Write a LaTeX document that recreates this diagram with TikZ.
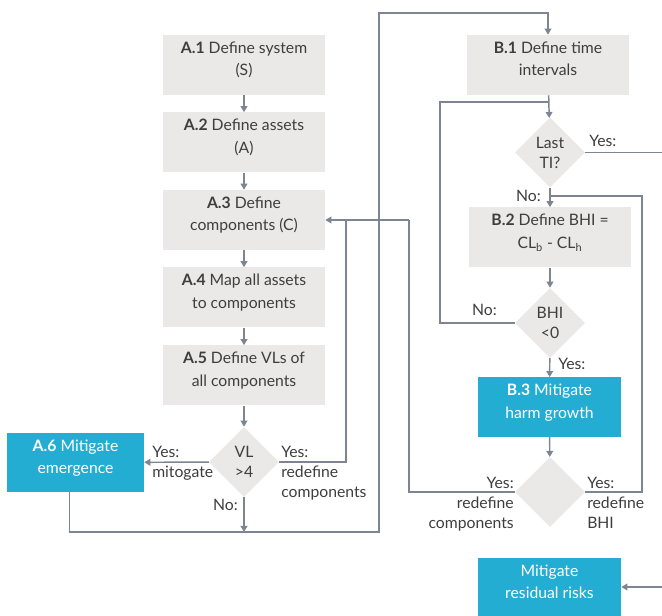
\documentclass[tikz,border=0pt]{standalone}
\usepackage{fontspec}
\setmainfont{Lato}
\usetikzlibrary{shapes.geometric,arrows.meta}
\definecolor{boxgray}{HTML}{EAE9E7}
\definecolor{boxblue}{HTML}{24ADD3}
\definecolor{linegray}{HTML}{7C8591}
\definecolor{txtgray}{HTML}{3E3E3E}
\tikzset{
  gbox/.style={fill=boxgray, minimum width=121.5pt, minimum height=45pt, inner sep=0},
  bbox/.style={fill=boxblue, minimum height=44.5pt, inner sep=0},
  btxt/.style={anchor=north, yshift=-5pt, inner sep=0, align=center, text=txtgray, font=\fontsize{11.8}{17}\selectfont},
  wtxt/.style={btxt, text=white},
  dia/.style={diamond, fill=boxgray, minimum size=52.5pt, inner sep=0, align=center, text=txtgray, font=\fontsize{11.8}{15}\selectfont},
  line/.style={draw=linegray, line width=1.1pt},
  arr/.style={line, -{Triangle[length=4.5pt,width=5pt]}},
  lbl/.style={inner sep=0, text=txtgray, font=\fontsize{11.8}{15}\selectfont}
}
\begin{document}
\begin{tikzpicture}[x=0.75pt, y=-0.75pt]
  \useasboundingbox (0,0) rectangle (662,616);
  % strand A
  \node[gbox] (a1) at (244,65) {};
  \node[btxt] (a1t) at (a1.north) {\textbf{A.1} Define system\\(S)};
  \node[gbox] (a2) at (244,142.5) {};
  \node[btxt] (a2t) at (a2.north) {\textbf{A.2} Define assets\\(A)};
  \node[gbox] (a3) at (244,220) {};
  \node[btxt] (a3t) at (a3.north) {\textbf{A.3} Define\\components (C)};
  \node[gbox] (a4) at (244,297.5) {};
  \node[btxt] (a4t) at (a4.north) {\textbf{A.4} Map all assets\\to components};
  \node[gbox] (a5) at (244,375.5) {};
  \node[btxt] (a5t) at (a5.north) {\textbf{A.5} Define VLs of\\all components};
  \node[dia] (vl) at (244,462) {VL\\>4};
  \node[bbox, minimum width=102.75pt] (a6) at (75.5,462.5) {};
  \node[wtxt] (a6t) at (a6.north) {\textbf{A.6} Mitigate\\emergence};
  % strand B
  \node[gbox] (b1) at (548,65) {};
  \node[btxt] (b1t) at (b1.north) {\textbf{B.1} Define time\\intervals};
  \node[dia] (lastti) at (550,152.5) {Last\\TI?};
  \node[gbox] (b2) at (550,237.5) {};
  \node[btxt] (b2t) at (b2.north) {\textbf{B.2} Define BHI =\\CL\textsubscript{b} - CL\textsubscript{h}};
  \node[dia] (bhi) at (550,323) {BHI\\<0};
  \node[bbox, minimum width=107.25pt] (b3) at (549.5,407) {};
  \node[wtxt] (b3t) at (b3.north) {\textbf{B.3} Mitigate\\harm growth};
  \node[dia] (chk) at (550,492) {};
  \node[bbox, minimum width=107.25pt, minimum height=43.5pt] (res) at (549.5,587) {};
  \node[wtxt] (rest) at (res.north) {Mitigate\\residual risks};
  % joints
  \coordinate (ja) at (346,220);
  \coordinate (jb) at (409,220);
  \coordinate (bus) at (244,532);
  \coordinate (bl) at (379,532);
  \coordinate (tl) at (379,13);
  \coordinate (lb) at (440,102);
  \coordinate (jt) at (548,102);
  \coordinate (jr) at (642,196);
  \coordinate (jn) at (550,196);
  \coordinate (lastout) at (662,152.5);
  \coordinate (resin) at (662,587);
  % connectors A
  \draw[arr] (a1) -- (a2);
  \draw[arr] (a2) -- (a3);
  \draw[arr] (a3) -- (a4);
  \draw[arr] (a4) -- (a5);
  \draw[arr] (a5) -- (vl);
  \draw[arr] (vl) -- (a6);
  \draw[line] (vl.east) -| (ja);
  \draw[arr] (jb) -- (a3.east);
  \draw[arr] (vl.south) -- (bus);
  \draw[arr] ([xshift=-4.5pt]a6.south) |- (bl) -- (tl) -| (b1.north);
  % connectors B
  \draw[arr] (b1) -- (lastti);
  \draw[line] (lastti.east) -- (lastout);
  \draw[arr] (lastti) -- (b2);
  \draw[arr] (b2) -- (bhi);
  \draw[line] (bhi.west) -| (lb) -- (jt);
  \draw[arr] (bhi) -- (b3);
  \draw[arr] (b3) -- (chk);
  \draw[line] (chk.west) -| (jb);
  \draw[line] (chk.east) -| (jr) -- (jn);
  \draw[arr] (resin) -- (res.east);
  % labels
  \node[lbl, anchor=north west, align=left] (lmit) at (152,446) {Yes:\\mitogate};
  \node[lbl, anchor=north west, align=left] (lredc) at (281,446) {Yes:\\redefine\\components};
  \node[lbl, anchor=east] (lnoa) at (238,505) {No:};
  \node[lbl, anchor=west] (lyest) at (589,141) {Yes:};
  \node[lbl, anchor=east] (lnot) at (541,196) {No:};
  \node[lbl, anchor=east] (lnob) at (497,310) {No:};
  \node[lbl, anchor=west] (lyesb) at (558,364) {Yes:};
  \node[lbl, anchor=north east, align=right] (lredc2) at (514,477) {Yes:\\redefine\\components};
  \node[lbl, anchor=north west, align=left] (lredb) at (587,477) {Yes:\\redefine\\BHI};
\end{tikzpicture}
\end{document}
